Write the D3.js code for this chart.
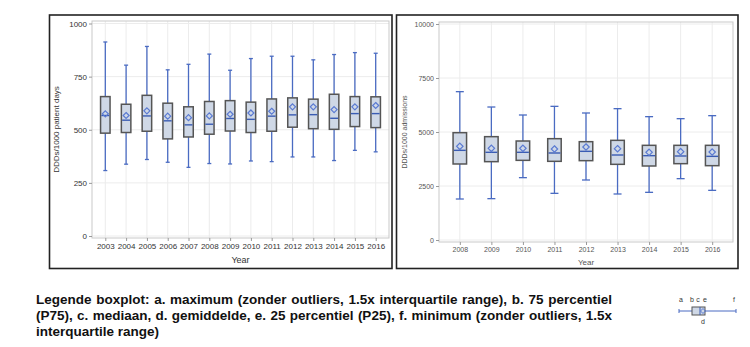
<!DOCTYPE html>
<html><head><meta charset="utf-8">
<script src="https://cdn.jsdelivr.net/npm/d3@7"></script>
<style>body{margin:0;background:#fff}svg{display:block}</style>
</head><body>
<svg id="c" width="750" height="347"></svg>
<script>
// ---- Data (left panel: DDDs/1000 patient days) ----
const yearsL = ["2003","2004","2005","2006","2007","2008","2009","2010","2011","2012","2013","2014","2015","2016"];
const maxL  = [913,804,892,782,808,856,780,835,846,846,829,854,863,860];
const q3L   = [656,620,662,625,608,633,637,630,645,650,644,667,656,655];
const medL  = [567,545,565,542,523,526,553,549,564,570,571,554,576,576];
const meanL = [575,567,589,564,557,565,573,579,587,608,608,595,608,614];
const q1L   = [484,487,493,457,466,479,494,487,493,512,505,502,515,510];
const minL  = [308,338,360,347,323,341,339,353,350,372,372,355,403,396];
const ticksL = [0,250,500,750,1000];

// ---- Data (right panel: DDDs/1000 admissions) ----
const yearsR = ["2008","2009","2010","2011","2012","2013","2014","2015","2016"];
const maxR  = [6867,6157,5787,6188,5880,6080,5710,5617,5756];
const q3R   = [4969,4784,4583,4691,4552,4614,4383,4383,4383];
const medR  = [4151,4059,4059,4028,4105,3935,3904,3889,3873];
const meanR = [4336,4244,4244,4213,4306,4228,4059,4090,4074];
const q1R   = [3519,3627,3688,3642,3673,3503,3426,3534,3441];
const minR  = [1898,1914,2886,2160,2778,2130,2207,2840,2299];
const ticksR = [0,2500,5000,7500,10000];

const legendLines = [
  "Legende boxplot: a. maximum (zonder outliers, 1.5x interquartile range), b. 75 percentiel",
  "(P75), c. mediaan, d. gemiddelde, e. 25 percentiel (P25), f. minimum (zonder outliers, 1.5x",
  "interquartile range)"
];

const svg = d3.select("#c");
const FONT = "Liberation Sans, Arial, sans-serif";

function panel(cfg){
  const g = svg.append("g");
  g.append("rect").attr("x",cfg.frame[0]).attr("y",cfg.frame[1])
   .attr("width",cfg.frame[2]).attr("height",cfg.frame[3])
   .attr("fill","#fff").attr("stroke","#222").attr("stroke-width",1.6);
  const x = d3.scalePoint().domain(cfg.years).range([cfg.px0,cfg.px1]).padding(cfg.pad);
  const y = d3.scaleLinear().domain([0,cfg.ymax]).range([cfg.y0,cfg.y1]);
  g.selectAll(".gy").data(cfg.ticks).join("line")
   .attr("x1",cfg.px0).attr("x2",cfg.px1).attr("y1",d=>y(d)).attr("y2",d=>y(d))
   .attr("stroke","#ececec").attr("stroke-width",1);
  g.selectAll(".gx").data(cfg.years).join("line")
   .attr("x1",d=>x(d)).attr("x2",d=>x(d)).attr("y1",cfg.pt).attr("y2",cfg.pb)
   .attr("stroke","#ececec").attr("stroke-width",1);
  g.append("rect").attr("x",cfg.px0).attr("y",cfg.pt).attr("width",cfg.px1-cfg.px0)
   .attr("height",cfg.pb-cfg.pt).attr("fill","none").attr("stroke","#c9c9c9").attr("stroke-width",1);
  const ya = d3.axisLeft(y).tickValues(cfg.ticks).tickFormat(d3.format("d")).tickSize(3).tickPadding(2);
  const yg = g.append("g").attr("transform",`translate(${cfg.px0},0)`).call(ya);
  yg.select(".domain").remove();
  yg.selectAll("line").attr("stroke","#999");
  yg.selectAll("text").attr("font-family",FONT).attr("font-size",cfg.fs).attr("fill",cfg.tc);
  const xa = d3.axisBottom(x).tickSize(3).tickPadding(2);
  const xg = g.append("g").attr("transform",`translate(0,${cfg.pb})`).call(xa);
  xg.select(".domain").remove();
  xg.selectAll("line").attr("stroke","#999");
  xg.selectAll("text").attr("font-family",FONT).attr("font-size",cfg.fs).attr("fill",cfg.tc);
  g.append("text").attr("x",(cfg.px0+cfg.px1)/2).attr("y",cfg.xtY).attr("text-anchor","middle")
   .attr("font-family",FONT).attr("font-size",cfg.fs+1).attr("fill",cfg.tc).text("Year");
  g.append("text").attr("transform",`translate(${cfg.ytX},${(cfg.pt+cfg.pb)/2}) rotate(-90)`)
   .attr("text-anchor","middle").attr("font-family",FONT).attr("font-size",cfg.fs)
   .attr("fill",cfg.tc).text(cfg.ytitle);
  const bw = cfg.bw, cw = cfg.cw;
  const idx = cfg.years.map((d,i)=>i);
  const b = g.selectAll(".box").data(idx).join("g");
  const blue = "#4a6bc2";
  const X = i=>x(cfg.years[i]);
  b.append("line").attr("x1",X).attr("x2",X)
   .attr("y1",i=>y(cfg.max[i])).attr("y2",i=>y(cfg.q3[i])).attr("stroke",blue).attr("stroke-width",1.3);
  b.append("line").attr("x1",X).attr("x2",X)
   .attr("y1",i=>y(cfg.q1[i])).attr("y2",i=>y(cfg.min[i])).attr("stroke",blue).attr("stroke-width",1.3);
  b.append("line").attr("x1",i=>X(i)-cw/2).attr("x2",i=>X(i)+cw/2)
   .attr("y1",i=>y(cfg.max[i])).attr("y2",i=>y(cfg.max[i])).attr("stroke",blue).attr("stroke-width",1.3);
  b.append("line").attr("x1",i=>X(i)-cw/2).attr("x2",i=>X(i)+cw/2)
   .attr("y1",i=>y(cfg.min[i])).attr("y2",i=>y(cfg.min[i])).attr("stroke",blue).attr("stroke-width",1.3);
  b.append("rect").attr("x",i=>X(i)-bw/2).attr("width",bw)
   .attr("y",i=>y(cfg.q3[i])).attr("height",i=>y(cfg.q1[i])-y(cfg.q3[i]))
   .attr("fill","#cfd8e6").attr("stroke","#555").attr("stroke-width",1.5);
  b.append("line").attr("x1",i=>X(i)-bw/2+0.8).attr("x2",i=>X(i)+bw/2-0.8)
   .attr("y1",i=>y(cfg.med[i])).attr("y2",i=>y(cfg.med[i])).attr("stroke","#3a5cb3").attr("stroke-width",1.4);
  const ds = cfg.ds;
  b.append("path").attr("d",i=>{const cx=X(i),cy=y(cfg.mean[i]);
      return `M${cx},${cy-ds}L${cx+ds},${cy}L${cx},${cy+ds}L${cx-ds},${cy}Z`;})
   .attr("fill","none").attr("stroke","#5a7ad2").attr("stroke-width",1.2);
}

panel({frame:[49.5,15,342.5,253.5], years:yearsL, px0:92, px1:389, pad:0.64, pt:21, pb:238,
  ymax:1000, y0:236, y1:23.5, ticks:ticksL, fs:8, tc:"#333", xtY:263, ytX:59,
  ytitle:"DDDs/1000 patient days", max:maxL,q3:q3L,med:medL,mean:meanL,q1:q1L,min:minL,
  bw:9.5, cw:4, ds:3});
panel({frame:[396.5,15,341.5,253.5], years:yearsR, px0:439, px1:733, pad:0.66, pt:22, pb:242,
  ymax:10000, y0:240, y1:24, ticks:ticksR, fs:7, tc:"#555", xtY:265, ytX:407,
  ytitle:"DDDs/1000 admissions", max:maxR,q3:q3R,med:medR,mean:meanR,q1:q1R,min:minR,
  bw:13.5, cw:8, ds:3.2});

// legend text (justified first two lines)
const lx0 = 36, lx1 = 612, baseY = [304,320,336];
legendLines.forEach((line,li)=>{
  const words = line.split(" ");
  const t = svg.append("text").attr("font-family",FONT).attr("font-size",13.5)
    .attr("font-weight","bold").attr("fill","#111").attr("y",baseY[li]);
  if (li < 2) {
    const tmp = words.map(w=>{const e=svg.append("text").attr("font-family",FONT).attr("font-size",13.5)
       .attr("font-weight","bold").text(w); const l=e.node().getComputedTextLength(); e.remove(); return l;});
    const total = d3.sum(tmp);
    const gap = (lx1-lx0-total)/(words.length-1);
    let cx = lx0;
    words.forEach((w,i)=>{ t.append("tspan").attr("x",cx).text(w); cx += tmp[i]+gap; });
  } else {
    t.attr("x",lx0).text(line);
  }
});

// legend icon
const ig = svg.append("g");
const il = d3.scaleLinear().domain([0,1]).range([679,736]);
ig.append("line").attr("x1",il(0)).attr("x2",il(1)).attr("y1",311).attr("y2",311).attr("stroke","#4a6bc2").attr("stroke-width",1);
[0,1].forEach(v=>ig.append("line").attr("x1",il(v)).attr("x2",il(v)).attr("y1",309).attr("y2",313).attr("stroke","#4a6bc2"));
ig.append("rect").attr("x",692).attr("y",307).attr("width",13).attr("height",8).attr("fill","#cfd8e6").attr("stroke","#555").attr("stroke-width",1);
ig.append("line").attr("x1",700).attr("x2",700).attr("y1",307).attr("y2",315).attr("stroke","#3a5cb3");
ig.append("path").attr("d","M703,308.5L705.5,311L703,313.5L700.5,311Z").attr("fill","none").attr("stroke","#5a7ad2");
const lab = [["a",681,302],["b",692,302],["c",698,302],["e",705,302],["f",734,302],["d",703,324]];
lab.forEach(d=>ig.append("text").attr("x",d[1]).attr("y",d[2]).attr("text-anchor","middle")
  .attr("font-family",FONT).attr("font-size",7).attr("fill","#333").text(d[0]));
</script>
</body></html>
